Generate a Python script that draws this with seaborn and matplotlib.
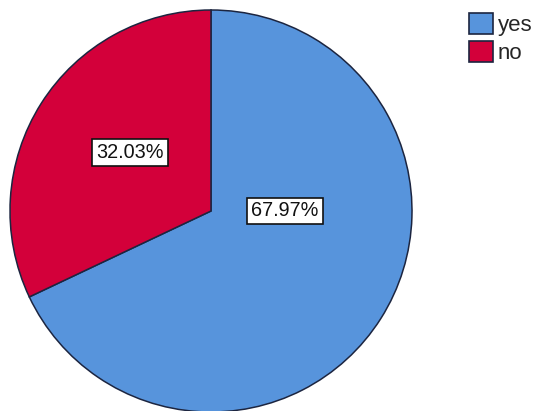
import matplotlib
matplotlib.use("Agg")
import matplotlib.pyplot as plt
from matplotlib.patches import Patch
import seaborn as sns

# Response shares
categories = ["yes", "no"]
percentages = [67.97, 32.03]
slice_colors = ["#5794dc", "#d3003a"]
edge_color = "#1c2540"

sns.set_theme(style="white")
plt.rcParams["font.family"] = ["Liberation Sans", "DejaVu Sans"]

W, H = 540, 411
fig = plt.figure(figsize=(W / 100, H / 100), dpi=100)
# pie centred at (211, 211) px with a 201 px radius
cx, cy, r = 211, 211, 201
ax = fig.add_axes([(cx - r) / W, (H - cy - r) / H, 2 * r / W, 2 * r / H])

wedges, _ = ax.pie(
    percentages,
    colors=slice_colors,
    startangle=90,
    counterclock=False,
    radius=1.0,
    wedgeprops=dict(edgecolor=edge_color, linewidth=1.1),
)
ax.set_xlim(-1.0, 1.0)
ax.set_ylim(-1.0, 1.0)
ax.set_aspect("equal")
ax.axis("off")

# Percentage labels in white boxes
label_pos = {"yes": (0.368, 0.0), "no": (-0.403, 0.29)}
for cat, pct in zip(categories, percentages):
    x, y = label_pos[cat]
    ax.text(x, y, f"{pct:.2f}%", ha="center", va="center", fontsize=14.3,
            color="#111111",
            bbox=dict(boxstyle="square,pad=0.2", facecolor="white",
                      edgecolor="#111111", linewidth=1.2))

handles = [Patch(facecolor=c, edgecolor=edge_color, linewidth=1.2, label=l)
           for c, l in zip(slice_colors, categories)]
fig.legend(handles=handles, loc="upper left",
           bbox_to_anchor=(469 / W, 1 - 13.5 / H),
           frameon=False, fontsize=16, handlelength=1.08, handleheight=1.04,
           handletextpad=0.22, labelspacing=0.23, borderaxespad=0, borderpad=0)

fig.savefig("out.png", dpi=100)
